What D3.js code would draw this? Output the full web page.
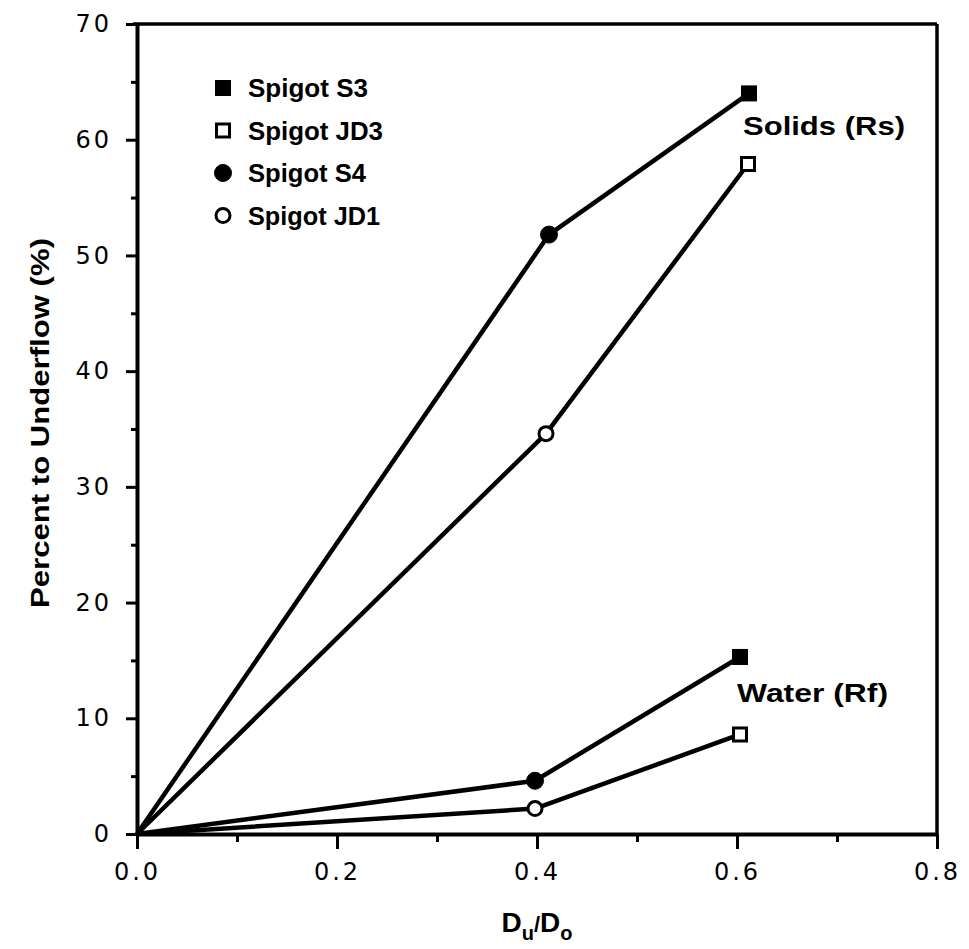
<!DOCTYPE html>
<html><head><meta charset="utf-8">
<script src="https://cdn.jsdelivr.net/npm/d3@7/dist/d3.min.js"></script>
<style>
html,body{margin:0;padding:0;background:#fff;}
svg{display:block;}
</style></head>
<body>
<script>
// ---- data ----
const xTicks = [0.0, 0.2, 0.4, 0.6, 0.8];
const xMinorTicks = [0.1, 0.3, 0.5, 0.7];
const yTicks = [0, 10, 20, 30, 40, 50, 60, 70];
const yMinorTicks = [5, 15, 25, 35, 45, 55, 65];

// solids (Rs)
const solidsS_x = [0, 0.412, 0.612];   // S4 at 0.4, S3 at 0.6
const solidsS_y = [0, 51.8, 64.0];
const solidsJD_x = [0, 0.409, 0.611];  // JD1 at 0.4, JD3 at 0.6
const solidsJD_y = [0, 34.6, 57.9];
// water (Rf)
const waterS_x = [0, 0.398, 0.603];
const waterS_y = [0, 4.6, 15.3];
const waterJD_x = [0, 0.398, 0.603];
const waterJD_y = [0, 2.2, 8.6];

const legendLabels = ["Spigot S3", "Spigot JD3", "Spigot S4", "Spigot JD1"];
const legendShapes = ["square", "square", "circle", "circle"];
const legendFilled = [true, false, true, false];

const seriesList = [
  {x: solidsS_x, y: solidsS_y, filled: true},
  {x: solidsJD_x, y: solidsJD_y, filled: false},
  {x: waterS_x, y: waterS_y, filled: true},
  {x: waterJD_x, y: waterJD_y, filled: false}
];

// ---- layout ----
const W = 969, H = 949;
const svg = d3.select("body").append("svg").attr("width", W).attr("height", H);
const x = d3.scaleLinear().domain([0, 0.8]).range([137, 937]);
const y = d3.scaleLinear().domain([0, 70]).range([834, 24]);

const tickFont = "'DejaVu Sans', sans-serif";
const boldFont = "'Liberation Sans', Arial, Helvetica, sans-serif";

// frame top/right
svg.append("line").attr("x1", x(0) - 4).attr("x2", x(0.8)).attr("y1", y(70)).attr("y2", y(70))
  .attr("stroke", "#000").attr("stroke-width", 3.5);
svg.append("line").attr("x1", x(0.8)).attr("x2", x(0.8)).attr("y1", y(70)).attr("y2", y(0))
  .attr("stroke", "#000").attr("stroke-width", 3.5);

// x axis
const gx = svg.append("g").attr("transform", `translate(0,${y(0)})`);
gx.call(d3.axisBottom(x).tickValues(xTicks).tickFormat(d3.format(".1f")).tickSize(15).tickSizeOuter(0).tickPadding(14));
svg.append("g").attr("transform", `translate(0,${y(0)})`)
  .call(d3.axisBottom(x).tickValues(xMinorTicks).tickFormat("").tickSize(8).tickSizeOuter(0))
  .select(".domain").remove();

// y axis
const gy = svg.append("g").attr("transform", `translate(${x(0)},0)`);
gy.call(d3.axisLeft(y).tickValues(yTicks).tickFormat(d3.format("d")).tickSize(11).tickSizeOuter(0).tickPadding(14));
svg.append("g").attr("transform", `translate(${x(0)},0)`)
  .call(d3.axisLeft(y).tickValues(yMinorTicks).tickFormat("").tickSize(6).tickSizeOuter(0))
  .select(".domain").remove();

svg.selectAll(".domain").attr("stroke", "#000").attr("stroke-width", 4);
svg.selectAll(".tick line").attr("stroke", "#000").attr("stroke-width", 3);
svg.selectAll(".tick text").attr("font-family", tickFont).attr("font-size", 24)
  .attr("letter-spacing", "3px").attr("fill", "#000");

// lines
const line = d3.line().x(d => x(d[0])).y(d => y(d[1]));
seriesList.forEach(s => {
  const pts = s.x.map((v, i) => [v, s.y[i]]);
  svg.append("path").attr("d", line(pts)).attr("fill", "none")
    .attr("stroke", "#000").attr("stroke-width", 4.5).attr("stroke-linejoin", "round");
});

// markers
function marker(g, shape, filled, cx, cy) {
  if (shape === "circle") {
    g.append("circle").attr("cx", cx).attr("cy", cy).attr("r", filled ? 8.5 : 7)
      .attr("fill", filled ? "#000" : "#fff").attr("stroke", "#000").attr("stroke-width", filled ? 1 : 3);
  } else {
    const s = filled ? 15 : 13;
    g.append("rect").attr("x", cx - s / 2).attr("y", cy - s / 2).attr("width", s).attr("height", s)
      .attr("fill", filled ? "#000" : "#fff").attr("stroke", "#000").attr("stroke-width", filled ? 1 : 3);
  }
}
seriesList.forEach(s => {
  s.x.forEach((v, i) => {
    if (i === 0) return;
    marker(svg, i === 1 ? "circle" : "square", s.filled, x(v), y(s.y[i]));
  });
});

// legend
const legX = 223, legY0 = 88, legStep = 42.5;
const legLens = [120, 135, 118, 132];
legendLabels.forEach((lab, i) => {
  const cy = legY0 + i * legStep;
  marker(svg, legendShapes[i], legendFilled[i], legX, cy);
  svg.append("text").attr("x", 248).attr("y", cy + 9)
    .attr("font-family", boldFont).attr("font-weight", "bold").attr("font-size", 25)
    .attr("textLength", legLens[i]).attr("lengthAdjust", "spacingAndGlyphs")
    .text(lab);
});

// annotations
svg.append("text").attr("x", 743).attr("y", 135)
  .attr("font-family", boldFont).attr("font-weight", "bold").attr("font-size", 25)
  .attr("textLength", 162).attr("lengthAdjust", "spacingAndGlyphs").text("Solids (Rs)");
svg.append("text").attr("x", 737).attr("y", 702)
  .attr("font-family", boldFont).attr("font-weight", "bold").attr("font-size", 25)
  .attr("textLength", 151).attr("lengthAdjust", "spacingAndGlyphs").text("Water (Rf)");

// y title
svg.append("text").attr("transform", "translate(49,423) rotate(-90)")
  .attr("text-anchor", "middle")
  .attr("font-family", boldFont).attr("font-weight", "bold").attr("font-size", 26)
  .attr("textLength", 370).attr("lengthAdjust", "spacingAndGlyphs")
  .text("Percent to Underflow (%)");

// x title  D_u / D_o
const xt = svg.append("text").attr("x", 537).attr("y", 932).attr("text-anchor", "middle")
  .attr("font-family", boldFont).attr("font-weight", "bold").attr("font-size", 28);
xt.append("tspan").text("D");
xt.append("tspan").attr("font-size", 20).attr("dy", 8).text("u");
xt.append("tspan").attr("font-size", 22).attr("dy", -8).text("/");
xt.append("tspan").text("D");
xt.append("tspan").attr("font-size", 20).attr("dy", 8).text("o");
</script>
</body></html>
